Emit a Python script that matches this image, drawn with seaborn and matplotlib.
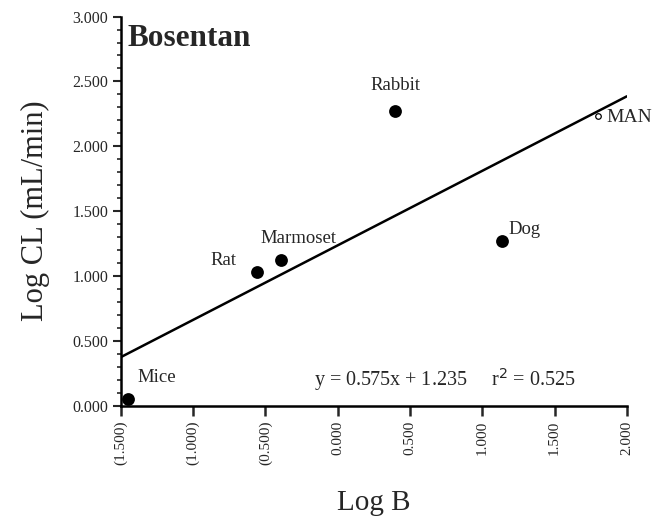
import matplotlib
matplotlib.use("Agg")
import matplotlib.pyplot as plt
import seaborn as sns
import pandas as pd
import numpy as np
from matplotlib.ticker import FuncFormatter, MultipleLocator

# ---- data ----
species = ["Mice", "Rat", "Marmoset", "Rabbit", "Dog"]
log_b = [-1.45, -0.56, -0.39, 0.40, 1.14]
log_cl = [0.05, 1.03, 1.12, 2.27, 1.27]
man_log_b = [1.80]
man_log_cl = [2.23]
slope = 0.575
intercept = 1.235
r2 = 0.525
x_ticks = [-1.5, -1.0, -0.5, 0.0, 0.5, 1.0, 1.5, 2.0]
y_ticks = [0.0, 0.5, 1.0, 1.5, 2.0, 2.5, 3.0]

sns.set_style("white")
plt.rcParams["font.family"] = ["Liberation Serif", "DejaVu Serif"]

fig = plt.figure(figsize=(6.55, 5.18), dpi=100)
ax = fig.add_axes([0.184, 0.217, 0.773, 0.751])

df = pd.DataFrame({"species": species, "x": log_b, "y": log_cl})
sns.scatterplot(data=df, x="x", y="y", ax=ax, color="black", s=85,
                edgecolor="black", linewidth=0, zorder=3, legend=False)

fit_x = [x_ticks[0], x_ticks[-1]]
fit_df = pd.DataFrame({"x": fit_x, "y": [slope * v + intercept for v in fit_x]})
sns.lineplot(data=fit_df, x="x", y="y", ax=ax, color="black", linewidth=1.8,
             zorder=2)

# Man (open circle)
ax.scatter(man_log_b, man_log_cl, s=16, facecolor="white", edgecolor="black",
           linewidth=0.9, zorder=4)
ax.text(man_log_b[0] + 0.06, man_log_cl[0] - 0.01, "MAN", fontsize=14,
        va="center", ha="left")

label_offsets = {
    "Mice": (0.07, 0.17, "left"),
    "Rat": (-0.14, 0.09, "right"),
    "Marmoset": (-0.14, 0.17, "left"),
    "Rabbit": (0.0, 0.20, "center"),
    "Dog": (0.04, 0.09, "left"),
}
for s, x, y in zip(species, log_b, log_cl):
    dx, dy, ha = label_offsets[s]
    ax.text(x + dx, y + dy, s, fontsize=13.5, ha=ha, va="center")

ax.text(-1.45, 2.83, "Bosentan", fontsize=22.5, fontweight="bold",
        ha="left", va="center")
ax.text(0.74, 0.2, f"y = {slope:.3f}x + {intercept:.3f}     r$^2$ = {r2:.3f}",
        fontsize=14.5, ha="center", va="center")

ax.set_xlim(-1.5, 2.0)
ax.set_ylim(0.0, 3.0)
ax.set_xticks(x_ticks)
ax.set_yticks(y_ticks)
ax.yaxis.set_minor_locator(MultipleLocator(0.1))

fmt = FuncFormatter(lambda v, p: f"({abs(v):.3f})" if v < -1e-9 else f"{abs(v):.3f}")
ax.xaxis.set_major_formatter(fmt)
ax.yaxis.set_major_formatter(fmt)

for lab in ax.get_xticklabels():
    lab.set_rotation(90)
ax.tick_params(axis="x", which="major", direction="out", length=7, width=1.8,
               labelsize=11, pad=4, bottom=True)
ax.tick_params(axis="y", which="major", direction="out", length=6, width=1.5,
               labelsize=11.5, pad=3, left=True)
ax.tick_params(axis="y", which="minor", direction="out", length=3, width=1.2,
               left=True)

for side in ["top", "right"]:
    ax.spines[side].set_visible(False)
for side in ["left", "bottom"]:
    ax.spines[side].set_linewidth(1.8)
    ax.spines[side].set_color("black")

ax.set_xlabel("Log B", fontsize=21, labelpad=18)
ax.set_ylabel("Log CL (mL/min)", fontsize=22, labelpad=16)

fig.savefig("out.png", dpi=100)
